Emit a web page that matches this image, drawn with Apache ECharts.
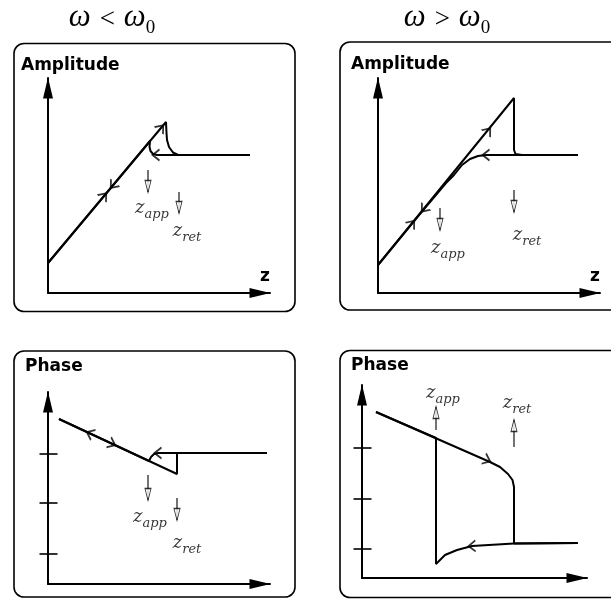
<!DOCTYPE html>
<html>
<head>
<meta charset="utf-8">
<script src="https://cdn.jsdelivr.net/npm/echarts@6/dist/echarts.min.js"></script>
<style>
  html, body { margin: 0; padding: 0; background: #fff; }
  #chart { width: 611px; height: 602px; }
</style>
</head>
<body>
<div id="chart"></div>
<script>
// ---- Amplitude, omega < omega0 (units: arbitrary z / amplitude) ----
const ampLowApproach = [[0, 3.0], [11.8, 17.1], [11.85, 16.0], [11.9, 15.3], [12.1, 14.6], [12.5, 14.05], [13.0, 13.8], [20.2, 13.8]];
const ampLowRetract  = [[20.2, 13.8], [10.9, 13.8], [10.5, 13.9], [10.25, 14.2], [10.15, 14.6], [10.2, 15.2], [0, 3.0]];
const ampLowChevrons = [[5.6, 9.7, 50], [6.5, 10.77, 230], [11.3, 16.5, 50], [10.8, 13.8, 180]];
const ampLowPointers = [[10.0, 12.3, 10.1], [13.1, 10.1, 8.0]];
const ampLowLabels   = [[10.4, 8.3, 'app'], [13.9, 6.0, 'ret']];

// ---- Amplitude, omega > omega0 ----
const ampHighApproach = [[0, 2.8], [13.6, 19.5], [13.6, 14.3], [13.75, 13.9], [14.4, 13.8], [20.0, 13.8]];
const ampHighRetract  = [[20.0, 13.8], [10.8, 13.8], [10.0, 13.7], [9.2, 13.4], [8.4, 12.8], [7.6, 11.8], [6.8, 11.0], [6.0, 10.05], [5.2, 9.1], [4.6, 8.4], [0, 2.8]];
const ampHighChevrons = [[3.4, 6.95, 50.7], [4.6, 8.41, 230.7], [11.0, 16.2, 50.7], [10.8, 13.8, 180]];
const ampHighPointers = [[6.2, 8.5, 6.3], [13.6, 10.3, 8.1]];
const ampHighLabels   = [[7.0, 4.3, 'app'], [14.9, 5.6, 'ret']];

// ---- Phase, omega < omega0 ----
const phaseLowApproach = [[1.1, 16.5], [12.9, 11.0], [12.9, 13.1], [21.9, 13.1]];
const phaseLowRetract  = [[21.9, 13.1], [11.0, 13.1], [10.6, 13.0], [10.3, 12.7], [10.1, 12.3], [1.1, 16.5]];
const phaseLowChevrons = [[4.2, 15.05, 155], [6.4, 14.03, -25], [11.0, 13.1, 180]];
const phaseLowPointers = [[10.0, 10.9, 8.4], [12.9, 8.6, 6.4]];
const phaseLowLabels   = [[10.2, 6.5, 'app'], [13.9, 3.9, 'ret']];
const phaseLowTicks    = [3.0, 8.1, 13.0];

// ---- Phase, omega > omega0 ----
const phaseHighApproach = [[1.4, 16.6], [12.8, 11.6], [13.8, 11.1], [14.6, 10.4], [15.05, 9.8], [15.2, 9.1], [15.2, 3.45], [21.6, 3.5]];
const phaseHighRetract  = [[21.6, 3.5], [15.2, 3.45], [11.0, 3.2], [9.5, 2.8], [8.3, 2.3], [7.4, 1.4], [7.4, 14.0], [1.4, 16.6]];
const phaseHighChevrons = [[12.5, 11.8, -24], [11.0, 3.2, 182]];
const phaseHighPointers = [[7.4, 14.8, 17.1], [15.2, 13.1, 15.8]];
const phaseHighLabels   = [[8.1, 18.3, 'app'], [15.5, 17.3, 'ret']];
const phaseHighTicks    = [2.9, 7.9, 13.0];

// axis extents in the same units
const xMaxes = [22.2, 22.2, 22.2, 22.5];
const yMaxes = [21.5, 21.5, 19.2, 19.3];

const INK = '#000';
const mathFont = 'DejaVu Serif';

const grids = [
  { left: 48,  top: 78,  width: 222, height: 215 },
  { left: 378, top: 78,  width: 222, height: 215 },
  { left: 48,  top: 392, width: 222, height: 192 },
  { left: 362, top: 385, width: 225, height: 193 }
];

function axisLineStyle() {
  return {
    show: true,
    onZero: false,
    lineStyle: { color: INK, width: 2 },
    symbol: ['none', 'triangle'],
    symbolSize: [10, 21],
    symbolOffset: [0, -10]
  };
}

const xAxes = xMaxes.map((m, i) => ({
  type: 'value', gridIndex: i, min: 0, max: m,
  axisLine: axisLineStyle(), axisTick: { show: false }, axisLabel: { show: false }, splitLine: { show: false }
}));
const yAxes = yMaxes.map((m, i) => ({
  type: 'value', gridIndex: i, min: 0, max: m,
  axisLine: axisLineStyle(), axisTick: { show: false }, axisLabel: { show: false }, splitLine: { show: false }
}));

function curve(idx, data) {
  return {
    type: 'line', xAxisIndex: idx, yAxisIndex: idx, data: data,
    symbol: 'none', showSymbol: false, clip: false, silent: true,
    lineStyle: { color: INK, width: 2 }, z: 3
  };
}

function chevrons(idx, marks) {
  return {
    type: 'scatter', xAxisIndex: idx, yAxisIndex: idx, clip: false, silent: true,
    symbol: 'path://M0,0 L10,6 L0,12', symbolSize: [7, 11],
    data: marks.map(m => ({ value: [m[0], m[1]], symbolRotate: m[2] })),
    itemStyle: { color: 'rgba(0,0,0,0)', borderColor: INK, borderWidth: 1.6 },
    z: 4
  };
}

function pointers(idx, list) {
  const out = list.map(p => ({
    type: 'line', xAxisIndex: idx, yAxisIndex: idx, data: [[p[0], p[1]], [p[0], p[2]]],
    symbol: 'none', showSymbol: false, clip: false, silent: true,
    lineStyle: { color: INK, width: 1.1 }, z: 3
  }));
  out.push({
    type: 'scatter', xAxisIndex: idx, yAxisIndex: idx, clip: false, silent: true,
    symbol: 'path://M0,0 L6,0 L3,12 Z', symbolSize: [6, 12],
    data: list.map(p => {
      const down = p[2] < p[1];
      return { value: [p[0], p[2] + (down ? 0.55 : -0.55)], symbolRotate: down ? 0 : 180 };
    }),
    itemStyle: { color: '#fff', borderColor: INK, borderWidth: 1.1 },
    z: 4
  });
  return out;
}

function labels(idx, list) {
  return {
    type: 'scatter', xAxisIndex: idx, yAxisIndex: idx, clip: false, silent: true,
    symbolSize: 0,
    data: list.map(l => ({ value: [l[0], l[1]], sub: l[2] })),
    label: {
      show: true, position: 'inside',
      formatter: p => '{z|z}{s|' + p.data.sub + '}',
      rich: {
        z: { fontFamily: mathFont, fontStyle: 'italic', fontSize: 18, color: INK, verticalAlign: 'bottom', padding: [0, 0, 4, 0] },
        s: { fontFamily: mathFont, fontStyle: 'italic', fontSize: 13, color: INK, verticalAlign: 'bottom' }
      }
    },
    z: 5
  };
}

// phase ticks: short bars centred on the vertical axis
function ticks(idx, list) {
  return {
    type: 'scatter', xAxisIndex: idx, yAxisIndex: idx, clip: false, silent: true,
    symbol: 'rect', symbolSize: [18, 2],
    data: list.map(t => [0.05, t]),
    itemStyle: { color: INK },
    z: 4
  };
}

const series = [
  curve(0, ampLowApproach), curve(0, ampLowRetract), chevrons(0, ampLowChevrons), ...pointers(0, ampLowPointers), labels(0, ampLowLabels),
  curve(1, ampHighApproach), curve(1, ampHighRetract), chevrons(1, ampHighChevrons), ...pointers(1, ampHighPointers), labels(1, ampHighLabels),
  curve(2, phaseLowApproach), curve(2, phaseLowRetract), chevrons(2, phaseLowChevrons), ...pointers(2, phaseLowPointers), labels(2, phaseLowLabels), ticks(2, phaseLowTicks),
  curve(3, phaseHighApproach), curve(3, phaseHighRetract), chevrons(3, phaseHighChevrons), ...pointers(3, phaseHighPointers), labels(3, phaseHighLabels), ticks(3, phaseHighTicks)
];

const panelTitle = { fontFamily: 'DejaVu Sans', fontWeight: 'bold', fontSize: 17, fill: INK };
const omegaRich = {
  w: { fontFamily: 'Liberation Serif', fontStyle: 'italic', fontSize: 31, fill: INK, verticalAlign: 'bottom', padding: [0, 0, 5, 0] },
  o: { fontFamily: 'Liberation Serif', fontSize: 27, fill: INK, verticalAlign: 'bottom', padding: [0, 9, 5, 9] },
  n: { fontFamily: 'Liberation Serif', fontSize: 19, fill: INK, verticalAlign: 'bottom' }
};

function box(x, y, w, h) {
  return { type: 'rect', shape: { x: x, y: y, width: w, height: h, r: 10 }, style: { fill: 'none', stroke: INK, lineWidth: 1.6 }, silent: true, z: 1 };
}
function text(x, y, str, style) {
  return { type: 'text', x: x, y: y, style: Object.assign({ text: str }, style), silent: true, z: 10 };
}

const chart = echarts.init(document.getElementById('chart'), null, { renderer: 'canvas' });
chart.setOption({
  animation: false,
  backgroundColor: '#fff',
  grid: grids,
  xAxis: xAxes,
  yAxis: yAxes,
  series: series,
  graphic: [
    box(14, 43.5, 281, 268),
    box(340, 42, 300, 268),
    box(14, 351, 281, 246),
    box(340, 350.5, 300, 247),
    text(112, 38, '{w|ω}{o|<}{w|ω}{n|0}', { rich: omegaRich, align: 'center', verticalAlign: 'bottom' }),
    text(447, 38, '{w|ω}{o|>}{w|ω}{n|0}', { rich: omegaRich, align: 'center', verticalAlign: 'bottom' }),
    text(21, 66, 'Amplitude', Object.assign({ verticalAlign: 'middle' }, panelTitle)),
    text(351, 65, 'Amplitude', Object.assign({ verticalAlign: 'middle' }, panelTitle)),
    text(25, 367, 'Phase', Object.assign({ verticalAlign: 'middle' }, panelTitle)),
    text(351, 366, 'Phase', Object.assign({ verticalAlign: 'middle' }, panelTitle)),
    text(265, 277, 'z', { fontFamily: 'DejaVu Sans', fontWeight: 'bold', fontSize: 17, fill: INK, align: 'center', verticalAlign: 'middle' }),
    text(595, 277, 'z', { fontFamily: 'DejaVu Sans', fontWeight: 'bold', fontSize: 17, fill: INK, align: 'center', verticalAlign: 'middle' })
  ]
});
</script>
</body>
</html>
